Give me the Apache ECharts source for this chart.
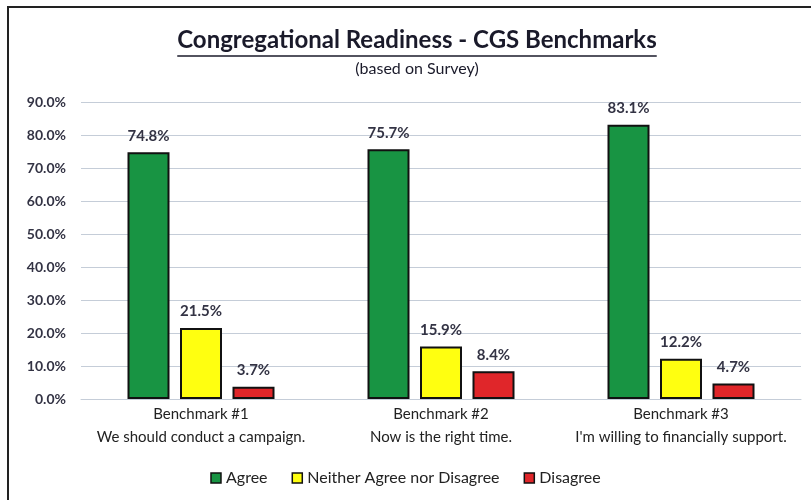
<!DOCTYPE html>
<html><head><meta charset="utf-8">
<script src="https://cdn.jsdelivr.net/npm/echarts@6/dist/echarts.min.js"></script>
<style>html,body{margin:0;padding:0;background:#fff}#c{width:811px;height:500px}</style>
</head><body><div id="c"></div>
<script>
const categories = ['Benchmark #1\nWe should conduct a campaign.', 'Benchmark #2\nNow is the right time.', 'Benchmark #3\nI\'m willing to financially support.'];
const seriesNames = ['Agree', 'Neither Agree nor Disagree', 'Disagree'];
const agree = [74.8, 75.7, 83.1];
const neither = [21.5, 15.9, 12.2];
const disagree = [3.7, 8.4, 4.7];
const colors = ['#189443', '#ffff10', '#e0262a'];
const font = 'Lato, "Open Sans", sans-serif';
const titleText = 'Congregational Readiness - CGS Benchmarks';
const titleFont = 'bold 24px ' + font;
const cv = document.createElement('canvas').getContext('2d');
cv.font = titleFont;
const tw = cv.measureText(titleText).width;
const cx = 417;
const chart = echarts.init(document.getElementById('c'));
const vals = [agree, neither, disagree];
chart.setOption({
  animation: false,
  graphic: [
    {type: 'rect', shape: {x: 8, y: 7, width: 900, height: 600}, style: {fill: 'none', stroke: '#222', lineWidth: 2}, z: 0},
    {type: 'text', x: cx, y: 28, style: {text: titleText, font: titleFont, fill: '#1a1a2a', textAlign: 'center'}},
    {type: 'line', shape: {x1: cx - tw / 2, y1: 56, x2: cx + tw / 2, y2: 56}, style: {stroke: '#1a1a2a', lineWidth: 1.5}},
    {type: 'text', x: cx, y: 61, style: {text: '(based on Survey)', font: '16px ' + font, fill: '#1a1a2a', textAlign: 'center'}}
  ],
  grid: {left: 81, right: 10, top: 102, bottom: 101, containLabel: false},
  legend: {
    bottom: 9, left: 'center', itemWidth: 10, itemHeight: 10, itemGap: 24,
    textStyle: {fontFamily: font, fontSize: 16, color: '#222'},
    data: seriesNames.map(n => ({name: n, icon: 'rect', itemStyle: {borderColor: '#111', borderWidth: 1.5}}))
  },
  xAxis: {
    type: 'category', data: categories,
    axisLine: {lineStyle: {color: '#c5cdd8'}}, axisTick: {show: false},
    axisLabel: {interval: 0, fontFamily: font, fontSize: 15, color: '#222', lineHeight: 23, margin: 4}
  },
  yAxis: {
    type: 'value', min: 0, max: 90, interval: 10,
    axisLabel: {formatter: v => v.toFixed(1) + '%', fontFamily: font, fontSize: 14, fontWeight: 'bold', color: '#333344', margin: 15},
    splitLine: {lineStyle: {color: '#c5cdd8'}},
    axisLine: {show: false}, axisTick: {show: false}
  },
  series: seriesNames.map((n, i) => ({
    name: n, type: 'bar', data: vals[i], barWidth: 42, barGap: '25%',
    itemStyle: {color: colors[i], borderColor: '#111', borderWidth: 2},
    label: {show: true, position: 'top', distance: 9, formatter: p => p.value.toFixed(1) + '%', fontFamily: font, fontSize: 15, fontWeight: 'bold', color: '#333344'}
  }))
});
</script></body></html>
